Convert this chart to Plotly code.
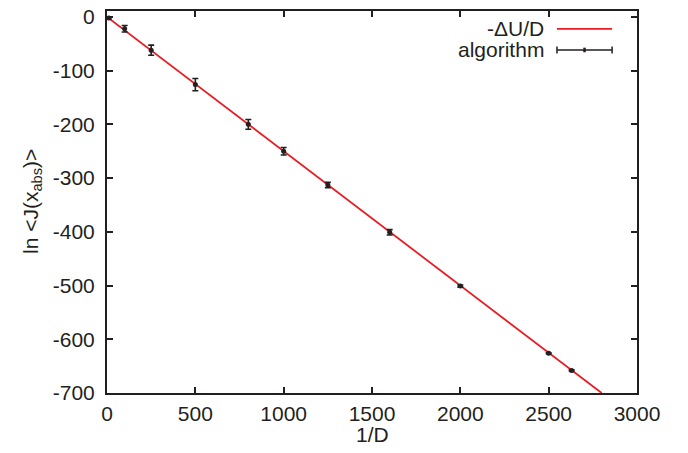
import plotly.graph_objects as go

# data
inv_D = [10, 100, 250, 500, 800, 1000, 1250, 1600, 2000, 2500, 2630]
lnJ = [-2, -22, -62, -126, -200, -250, -313, -401, -501, -626, -658]
lnJ_err = [2, 6, 9.5, 11.5, 9, 7, 5, 5, 2, 1, 1]

line_x = [0, 2800]
line_y = [0, -700]

x_ticks = [0, 500, 1000, 1500, 2000, 2500, 3000]
y_ticks = [0, -100, -200, -300, -400, -500, -600, -700]

FONT = "Liberation Sans, Arial, Helvetica, sans-serif"
INK = "#231f20"
RED = "rgb(232,28,36)"
FS = 21

fig = go.Figure()
fig.add_trace(go.Scatter(x=line_x, y=line_y, mode="lines",
                         line=dict(color=RED, width=1.8), showlegend=False,
                         cliponaxis=True))
fig.add_trace(go.Scatter(x=inv_D, y=lnJ, mode="markers",
                         marker=dict(color=INK, size=5),
                         error_y=dict(type="data", array=lnJ_err, visible=True,
                                      color=INK, thickness=1.6, width=3),
                         showlegend=False, cliponaxis=False))

axis_common = dict(showline=True, linecolor=INK, linewidth=2, mirror="ticks",
                   ticks="inside", ticklen=6, tickwidth=1.5, tickcolor=INK,
                   showgrid=False, zeroline=False, automargin=False,
                   ticklabeloverflow="allow",
                   tickfont=dict(family=FONT, size=FS, color=INK))

fig.update_xaxes(range=[0, 3000], tickvals=x_ticks,
                 ticktext=[str(v) for v in x_ticks],
                 ticklabelstandoff=1,
                 **axis_common)
fig.update_yaxes(range=[-700, 11], tickvals=y_ticks,
                 ticktext=[str(v) for v in y_ticks],
                 ticklabelstandoff=6,
                 **axis_common)

# axis titles
annotations = [
    dict(x=0.5, y=-0.108, xref="paper", yref="paper", text="1/D",
         showarrow=False, xanchor="center", yanchor="middle",
         font=dict(family=FONT, size=FS, color=INK)),
    dict(x=-0.1415, y=0.5, xref="paper", yref="paper",
         text="ln &lt;J(x<sub>abs</sub>)&gt;", textangle=-90,
         showarrow=False, xanchor="center", yanchor="middle",
         font=dict(family=FONT, size=FS, color=INK)),
]

# custom gnuplot-style legend (text right, sample left)
shapes = []
row1, row2 = 0.953, 0.898
tx = 0.828
s0, s1 = 0.849, 0.953
annotations.append(dict(x=tx, y=row1, xref="paper", yref="paper", text="-ΔU/D",
                        showarrow=False, xanchor="right", yanchor="middle",
                        font=dict(family=FONT, size=FS, color=INK)))
annotations.append(dict(x=tx, y=row2, xref="paper", yref="paper", text="algorithm",
                        showarrow=False, xanchor="right", yanchor="middle",
                        font=dict(family=FONT, size=FS, color=INK)))
shapes.append(dict(type="line", xref="paper", yref="paper", x0=s0, x1=s1,
                   y0=row1, y1=row1, line=dict(color=RED, width=1.8)))
shapes.append(dict(type="line", xref="paper", yref="paper", x0=s0, x1=s1,
                   y0=row2, y1=row2, line=dict(color=INK, width=1.5)))
for xx in (s0, s1):
    shapes.append(dict(type="line", xref="paper", yref="paper", x0=xx, x1=xx,
                       y0=row2 - 0.009, y1=row2 + 0.009,
                       line=dict(color=INK, width=1.5)))
mid = (s0 + s1) / 2
shapes.append(dict(type="line", xref="paper", yref="paper", x0=mid, x1=mid,
                   y0=row2 - 0.006, y1=row2 + 0.006, line=dict(color=INK, width=2.5)))

fig.update_layout(width=688, height=453,
                  margin=dict(l=107, r=51, t=11, b=60),
                  paper_bgcolor="white", plot_bgcolor="white",
                  shapes=shapes, annotations=annotations,
                  font=dict(family=FONT, size=FS, color=INK))

# remove the default 8px page margin so the figure sits at the window origin
fig.write_html("out.html",
               config={"displayModeBar": False},
               post_script="document.body.style.margin='0';document.body.style.overflow='hidden';")
